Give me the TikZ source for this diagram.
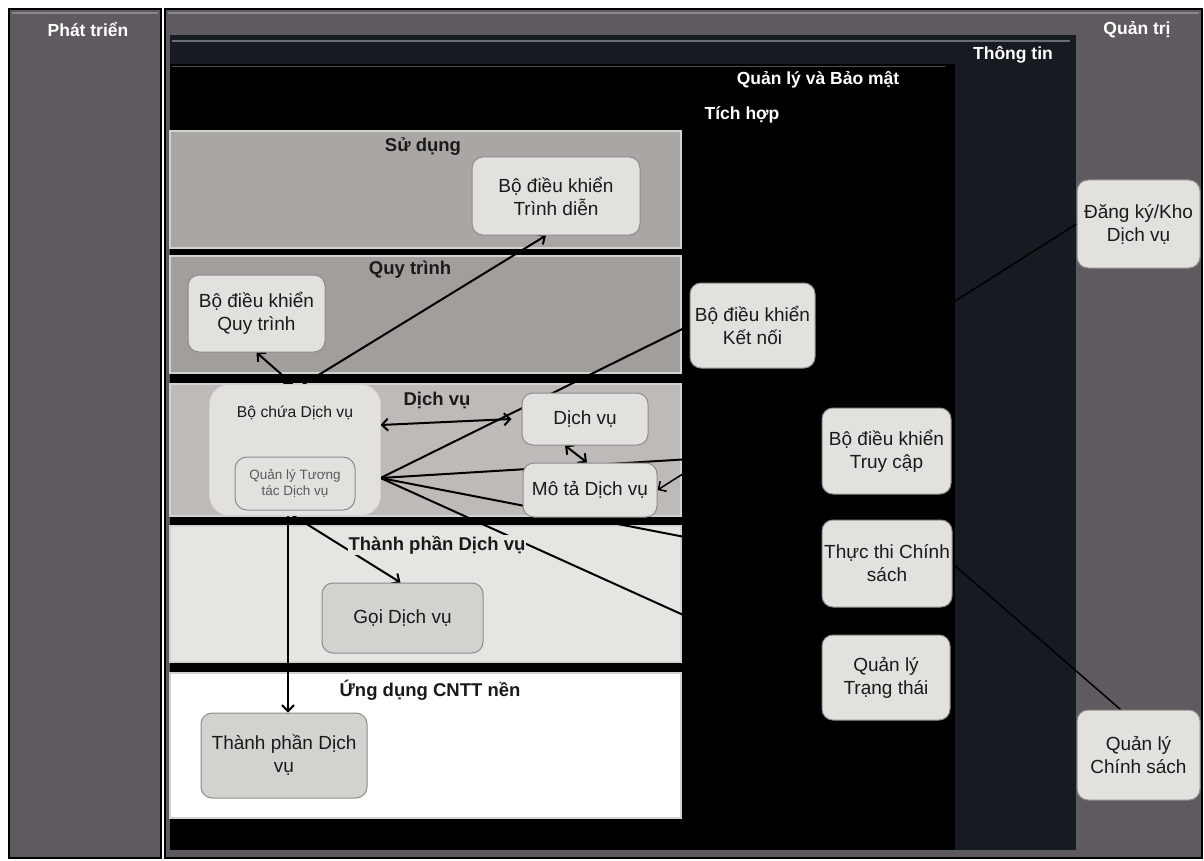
\documentclass[tikz,border=0pt]{standalone}
\usepackage{fontspec}
\setmainfont{Liberation Sans}
\usetikzlibrary{arrows.meta}
\pgfdeclarelayer{bg}
\pgfdeclarelayer{lines}
\pgfsetlayers{bg,lines,main}
\definecolor{colgray}{HTML}{5F5A60}
\definecolor{hilite}{HTML}{8B8690}
\definecolor{navy}{HTML}{161B22}
\definecolor{navyline}{HTML}{6B6E74}
\definecolor{qlline}{HTML}{4C4F55}
\definecolor{bandedge}{HTML}{D2D2D0}
\definecolor{sdcol}{HTML}{A9A6A3}
\definecolor{qtcol}{HTML}{A19E9B}
\definecolor{dvcol}{HTML}{BDBAB7}
\definecolor{tpcol}{HTML}{E5E5E2}
\definecolor{udcol}{HTML}{FFFFFF}
\definecolor{boxfill}{HTML}{E2E1DE}
\definecolor{boxfill2}{HTML}{D3D2CF}
\definecolor{boxedge}{HTML}{8C8C8C}
\definecolor{textdark}{HTML}{1A1A1A}
\definecolor{textgray}{HTML}{5A5A5A}
\newcommand{\nodefont}{\fontsize{19}{23}\selectfont}
\begin{document}
\begin{tikzpicture}[x=1pt,y=-1pt,
  box/.style={draw=boxedge, fill=boxfill, rounded corners=11pt, line width=1pt,
    align=center, text=textdark, font=\nodefont, inner sep=2pt},
  sz/.style 2 args={minimum width=#1, minimum height=#2},
  wl/.style={font=\bfseries\fontsize{17.5}{20}\selectfont, text=white},
  lay/.style={font=\bfseries\fontsize{18.5}{22}\selectfont, text=textdark, inner sep=1pt},
  band/.style={draw=bandedge, line width=2pt},
  conn/.style={draw=black, line width=2pt},
  thin/.style={draw=black, line width=1.5pt},
  >={Straight Barb[length=6pt,width=12pt]}
]
\useasboundingbox (0,0) rectangle (1204,861);

\begin{pgfonlayer}{bg}
\fill[white] (0,0) rectangle (1204,861);
% Phat trien column
\draw[fill=colgray, draw=black, line width=2pt] (9,9) rectangle (161,858);
\draw[hilite, line width=1.5pt] (12,13) -- (158,13);
% Quan tri frame
\draw[fill=colgray, draw=black, line width=2pt] (165,9) rectangle (1202,858);
\draw[hilite, line width=1.5pt] (168,13) -- (1199,13);
% Thong tin frame
\fill[navy] (170,35) rectangle (1076,850);
\draw[navyline, line width=1.5pt] (172,41) -- (1070,41);
% Quan ly va Bao mat frame
\fill[black] (170,64) rectangle (955,850);
\draw[qlline, line width=1.2pt] (172,66.5) -- (945,66.5);
% layers
\draw[band, fill=sdcol] (170,131) rectangle (681,248);
\draw[band, fill=qtcol] (170,256) rectangle (681,373);
\draw[band, fill=dvcol] (170,384) rectangle (681,516);
\draw[band, fill=tpcol] (170,526) rectangle (681,662);
\draw[band, fill=udcol] (170,673) rectangle (681,818);
\end{pgfonlayer}

% region labels
\node[wl] (lbpt) at (88,30) {Phát triển};
\node[wl] (lbqt) at (1137,30) {Quản trị};
\node[wl] (lbtt) at (1013,55) {Thông tin};
\node[wl] (lbql) at (818,80) {Quản lý và Bảo mật};
\node[wl] (lbth) at (742,115) {Tích hợp};

% layer labels
\node[lay] (lsd) at (423,147) {Sử dụng};
\node[lay] (lqt) at (410,270) {Quy trình};
\node[lay] (ldv) at (437,400) {Dịch vụ};
\node[lay, fill=tpcol] (ltp) at (437,545) {Thành phần Dịch vụ};
\node[lay] (lud) at (430,690) {Ứng dụng CNTT nền};

% boxes
\node[box, sz={168pt}{78pt}] (tdien) at (556,196) {Bộ điều khiển\\Trình diễn};
\node[box, sz={137pt}{77pt}] (qtbox) at (256.5,313.5) {Bộ điều khiển\\Quy trình};
\node[box, sz={170pt}{130pt}, rounded corners=20pt, draw=none] (container) at (295,450) {};
\node[font=\fontsize{15.7}{18}\selectfont, text=textdark] (ctitle) at (295,413) {Bộ chứa Dịch vụ};
\node[box, sz={120pt}{53pt}, text=textgray, font=\fontsize{13.5}{16}\selectfont, rounded corners=12pt] (qltt) at (295,483.5) {Quản lý Tương\\tác Dịch vụ};
\node[box, sz={126pt}{52pt}] (dv) at (585,419) {Dịch vụ};
\node[box, sz={134pt}{54pt}] (mota) at (590,490) {Mô tả Dịch vụ};
\node[box, sz={161pt}{70pt}, fill=boxfill2] (goi) at (402.5,618) {Gọi Dịch vụ};
\node[box, sz={166pt}{85pt}, fill=boxfill2] (tpdv) at (284,755.5) {Thành phần Dịch\\vụ};
\node[box, sz={125pt}{85pt}] (ketnoi) at (752.5,325.5) {Bộ điều khiển\\Kết nối};
\node[box, sz={129pt}{86pt}] (truycap) at (886.5,451) {Bộ điều khiển\\Truy cập};
\node[box, sz={130pt}{87pt}] (thucthi) at (887,563.5) {Thực thi Chính\\sách};
\node[box, sz={128pt}{85pt}] (trangthai) at (886,677.5) {Quản lý\\Trạng thái};
\node[box, sz={123pt}{88pt}] (dangky) at (1138.5,224) {Đăng ký/Kho\\Dịch vụ};
\node[box, sz={123pt}{90pt}] (qlcs) at (1138.5,755) {Quản lý\\Chính sách};

\coordinate (fan) at ([yshift=-28pt]container.east);

\begin{pgfonlayer}{lines}
\draw[conn] (fan) -- (ketnoi.west);
\draw[conn] (fan) -- (truycap.west);
\draw[conn] (fan) -- (thucthi.west);
\draw[conn] (fan) -- (trangthai.west);
\draw[conn, ->] ([xshift=8pt]container.north) -- ([xshift=-10pt]tdien.south);
\draw[conn, <->] ([xshift=-2pt]container.north) -- (qtbox.south);
\draw[conn, <->] ([yshift=25pt]container.east) -- ([xshift=-10pt]dv.west);
\draw[conn, <->] ([xshift=-20pt]dv.south) -- ([xshift=-3pt]mota.north);
\draw[conn, <->] ([xshift=-7pt]container.south) -- ([xshift=4pt]tpdv.north);
\draw[conn, ->] ([xshift=-2pt]container.south) -- ([xshift=-2pt]goi.north);
\draw[thin, ->] (dangky.west) -- (mota.east);
\draw[thin] (thucthi.east) -- ([xshift=-18pt]qlcs.north);
\end{pgfonlayer}

% container drawn over lines but under inner nodes
\begin{pgfonlayer}{lines}
\filldraw[fill=boxfill, draw=bandedge, line width=0.8pt] (container.south west) [rounded corners=20pt] rectangle (container.north east);
\end{pgfonlayer}
\end{tikzpicture}
\end{document}
